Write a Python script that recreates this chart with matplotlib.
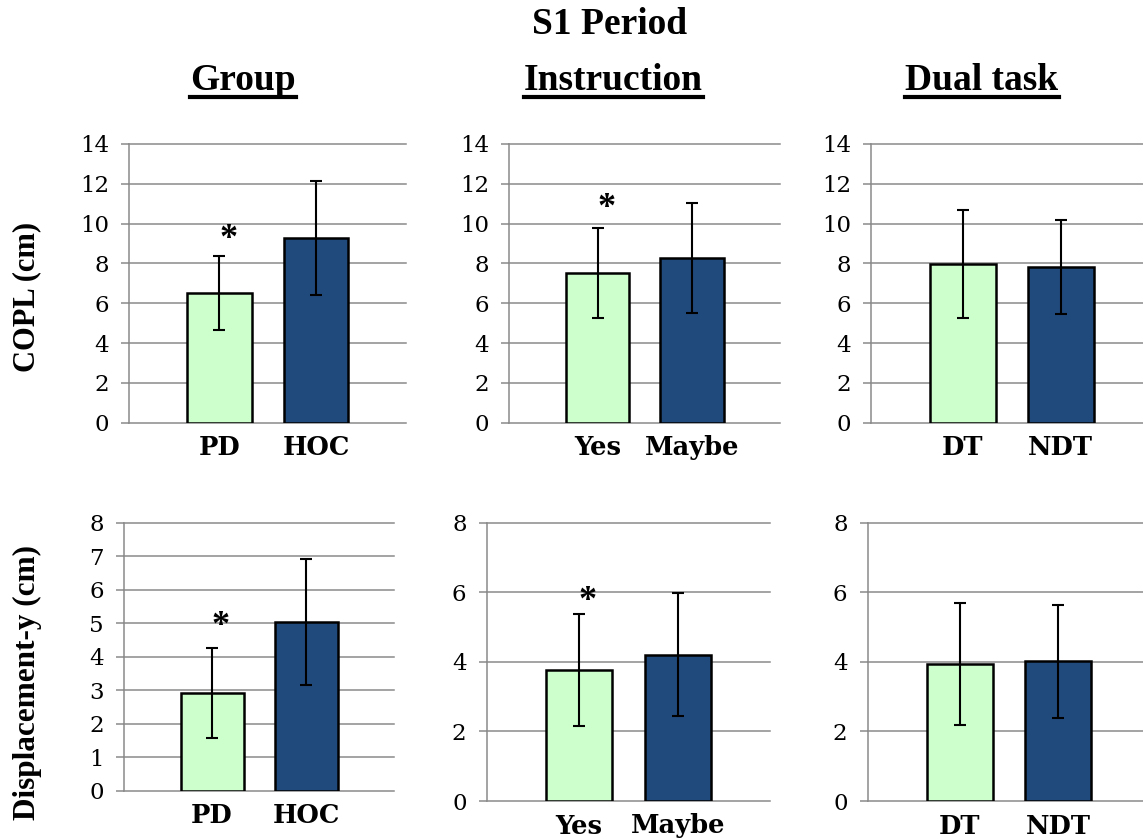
import matplotlib.pyplot as plt
import numpy as np
from matplotlib.lines import Line2D

# data
headers = ["Group", "Instruction", "Dual task"]
categories = [["PD", "HOC"], ["Yes", "Maybe"], ["DT", "NDT"]]

copl_mean = [[6.5, 9.28], [7.53, 8.28], [7.96, 7.82]]
copl_err = [[1.85, 2.87], [2.26, 2.77], [2.70, 2.36]]
disp_mean = [[2.92, 5.04], [3.77, 4.20], [3.94, 4.02]]
disp_err = [[1.35, 1.87], [1.60, 1.77], [1.76, 1.62]]

# asterisk height above the first bar (None = no mark)
copl_star = [9.6, 11.2, None]
disp_star = [5.16, 5.97, None]

W, H = 1143, 840
LIGHT = '#ccffcc'
DARK = '#214a7c'
GRID = '#8a8a8a'
TIMES = ['Liberation Serif', 'DejaVu Serif']
CAMBRIA = ['DejaVu Serif']

fig = plt.figure(figsize=(W / 100, H / 100), dpi=100, facecolor='white')

# axes boxes in pixels: left, right, top(y of max), bottom(y of 0)
top_boxes = [(129, 406, 144, 422.7), (509.3, 780, 144, 422.7), (871, 1152, 144, 422.7)]
bot_boxes = [(124, 394, 522.7, 790.7), (486.7, 770, 522.7, 801), (867.7, 1150, 522.7, 801)]


def make_ax(box):
    l, r, t, b = box
    return fig.add_axes([l / W, 1 - b / H, (r - l) / W, (b - t) / H])


def draw_panel(ax, cats, means, errs, star, ymax, ystep):
    x = np.arange(len(cats))
    ax.bar(x, means, width=0.67, color=[LIGHT, DARK], edgecolor='black',
           linewidth=1.8, zorder=3)
    ax.errorbar(x, means, yerr=errs, fmt='none', ecolor='black',
                elinewidth=1.5, capsize=4.5, capthick=1.5, zorder=4)
    if star is not None:
        ax.annotate('*', xy=(x[0] + 0.09, star), xytext=(0, -6),
                    textcoords='offset points', ha='center', va='center',
                    fontsize=26, fontweight='bold', family=TIMES, zorder=5)
    ax.set_xlim(-0.935, 1.93)
    ax.set_ylim(0, ymax)
    ax.set_yticks(np.arange(0, ymax + 0.1, ystep))
    ax.set_xticks(x)
    ax.set_xticklabels(cats, fontsize=18.5, fontweight='bold', family=CAMBRIA)
    for lab in ax.get_yticklabels():
        lab.set_family(CAMBRIA)
        lab.set_fontsize(16.5)
    ax.tick_params(axis='y', length=5.5, width=1.1, color=GRID, pad=9)
    ax.tick_params(axis='x', length=0, pad=9)
    for s in ['top', 'right', 'bottom']:
        ax.spines[s].set_visible(False)
    ax.spines['left'].set_color(GRID)
    ax.spines['left'].set_linewidth(1.1)
    ax.yaxis.grid(True, color=GRID, linewidth=1.1)
    ax.set_axisbelow(True)
    for gl in ax.get_ygridlines():
        gl.set_clip_on(False)
    ax.patch.set_alpha(0)


for i in range(3):
    ax = make_ax(top_boxes[i])
    draw_panel(ax, categories[i], copl_mean[i], copl_err[i], copl_star[i], 14, 2)
    ax = make_ax(bot_boxes[i])
    step = 1 if i == 0 else 2
    draw_panel(ax, categories[i], disp_mean[i], disp_err[i], disp_star[i], 8, step)

# titles
fig.text(610 / W, 1 - 25 / H, 'S1 Period', ha='center', va='center',
         fontsize=27, fontweight='bold', family=TIMES)
head_x = [243, 613, 982]
head_texts = []
for hx, h in zip(head_x, headers):
    t = fig.text(hx / W, 1 - 80 / H, h, ha='center', va='center',
                 fontsize=27, fontweight='bold', family=TIMES)
    head_texts.append(t)

fig.text(27 / W, 1 - 297 / H, 'COPL (cm)', ha='center', va='center', rotation=90,
         fontsize=22, fontweight='bold', family=TIMES)
fig.text(27 / W, 1 - 683 / H, 'Displacement-y (cm)', ha='center', va='center',
         rotation=90, fontsize=22.5, fontweight='bold', family=TIMES)

# underline the three headers
fig.canvas.draw()
inv = fig.transFigure.inverted()
for t in head_texts:
    bb = t.get_window_extent()
    (x0, y0), (x1, _) = inv.transform([(bb.x0, bb.y0), (bb.x1, bb.y0)])
    yl = 1 - 97 / H
    fig.add_artist(Line2D([x0, x1], [yl, yl], color='black', linewidth=3,
                          transform=fig.transFigure))

fig.savefig('out.png', dpi=100, facecolor='white')
